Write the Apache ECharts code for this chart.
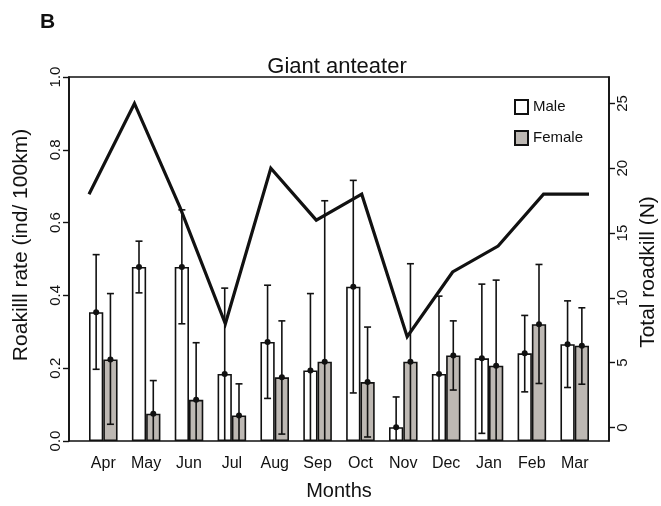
<!DOCTYPE html>
<html>
<head>
<meta charset="utf-8">
<script src="https://cdn.jsdelivr.net/npm/echarts@6/dist/echarts.min.js"></script>
<style>
  html, body { margin: 0; padding: 0; background: #fff; }
  #chart { width: 661px; height: 506px; }
</style>
</head>
<body>
<div id="chart"></div>
<script>
// Monthly giant anteater roadkill: rate by sex (bars, ±SE) and total count (line)
const months = ['Apr', 'May', 'Jun', 'Jul', 'Aug', 'Sep', 'Oct', 'Nov', 'Dec', 'Jan', 'Feb', 'Mar'];

const maleRate  = [0.354, 0.478, 0.478, 0.184, 0.272, 0.194, 0.424, 0.038, 0.184, 0.227, 0.241, 0.266];
const maleUpper = [0.512, 0.549, 0.635, 0.420, 0.428, 0.405, 0.716, 0.121, 0.398, 0.431, 0.345, 0.385];
const maleLower = [0.197, 0.407, 0.322, -0.052, 0.117, -0.017, 0.132, -0.045, -0.030, 0.021, 0.135, 0.147];

const femaleRate  = [0.224, 0.075, 0.113, 0.070, 0.175, 0.218, 0.162, 0.218, 0.235, 0.207, 0.321, 0.262];
const femaleUpper = [0.405, 0.166, 0.270, 0.157, 0.330, 0.660, 0.313, 0.487, 0.330, 0.442, 0.485, 0.366];
const femaleLower = [0.046, -0.016, -0.044, -0.017, 0.019, -0.224, 0.011, -0.051, 0.140, -0.028, 0.158, 0.156];

const totalRoadkill = [18, 25, 17, 8, 20, 16, 18, 7, 12, 14, 18, 18];

const rateTicks  = [0, 0.2, 0.4, 0.6, 0.8, 1.0];
const totalTicks = [0, 5, 10, 15, 20, 25];

const FONT = '"Liberation Sans", Arial, Helvetica, sans-serif';
const FEMALE_FILL = '#bdb8b3';

// Plot box (shared by both grids vertically)
const box = { left: 69, right: 609, top: 77, bottom: 441 };
// Bars use R barplot units: bars span 1..36, axis -0.4..37.4
const unitPx = (box.right - box.left) / 37.8;
const barGridLeft = box.left + 0.9 * unitPx;
const barGridRight = box.left + 36.9 * unitPx;

function errorBars(rate, upper, lower, side) {
  return {
    type: 'custom',
    xAxisIndex: 1,
    yAxisIndex: 2,
    z: 5,
    silent: true,
    data: rate.map((v, i) => [i, v, upper[i], lower[i]]),
    renderItem: function (params, api) {
      const idx = api.value(0);
      const band = api.size([1, 0])[0];
      const off = side * band / 6;
      const mid = api.coord([idx, api.value(1)]);
      const top = api.coord([idx, api.value(2)]);
      const lowVal = api.value(3);
      const bot = api.coord([idx, Math.max(lowVal, 0)]);
      const x = mid[0] + off;
      const cap = 3.5;
      const style = { stroke: '#111', lineWidth: 1.6, fill: null };
      const kids = [
        { type: 'line', shape: { x1: x, y1: top[1], x2: x, y2: bot[1] }, style: style },
        { type: 'line', shape: { x1: x - cap, y1: top[1], x2: x + cap, y2: top[1] }, style: style }
      ];
      if (lowVal >= 0) {
        kids.push({ type: 'line', shape: { x1: x - cap, y1: bot[1], x2: x + cap, y2: bot[1] }, style: style });
      }
      kids.push({ type: 'circle', shape: { cx: x, cy: mid[1], r: 3 }, style: { fill: '#111' } });
      return { type: 'group', children: kids };
    }
  };
}

const chart = echarts.init(document.getElementById('chart'), null, { renderer: 'canvas' });

chart.setOption({
  animation: false,
  backgroundColor: '#fff',
  textStyle: { fontFamily: FONT, color: '#111' },
  title: [
    { text: 'B', left: 35, top: 7, textStyle: { fontFamily: FONT, fontSize: 21, fontWeight: 'bold', color: '#111' } },
    { text: 'Giant anteater', left: 332, top: 51, textAlign: 'center',
      textStyle: { fontFamily: FONT, fontSize: 22, fontWeight: 'normal', color: '#111' } }
  ],
  legend: {
    data: ['Male', 'Female'],
    orient: 'vertical',
    left: 514,
    top: 99,
    padding: 0,
    itemWidth: 13,
    itemHeight: 14,
    itemGap: 15,
    icon: 'rect',
    textStyle: { fontFamily: FONT, fontSize: 15, color: '#111' }
  },
  grid: [
    { left: box.left, width: box.right - box.left, top: box.top, height: box.bottom - box.top,
      outerBoundsMode: 'none', containLabel: false,
      show: true, borderColor: '#111', borderWidth: 1.6, backgroundColor: 'transparent' },
    { left: barGridLeft, width: barGridRight - barGridLeft, top: box.top, height: box.bottom - box.top,
      outerBoundsMode: 'none', containLabel: false }
  ],
  xAxis: [
    { type: 'value', gridIndex: 0, min: 0.56, max: 12.44, show: false },
    { type: 'category', gridIndex: 1, data: months, boundaryGap: true,
      axisLine: { show: false }, axisTick: { show: false },
      axisLabel: { fontFamily: FONT, fontSize: 16, color: '#111', margin: 15, interval: 0 },
      name: 'Months', nameLocation: 'middle', nameGap: 40,
      nameTextStyle: { fontFamily: FONT, fontSize: 20, color: '#111' } }
  ],
  yAxis: [
    { type: 'value', gridIndex: 0, min: 0, max: 1, interval: 0.2, position: 'left',
      splitLine: { show: false },
      axisLine: { show: true, lineStyle: { color: '#111', width: 1.6 } },
      axisTick: { show: true, length: 6, lineStyle: { color: '#111', width: 1.4 } },
      axisLabel: { fontFamily: FONT, fontSize: 15, color: '#111', rotate: 90, margin: 6,
                   formatter: v => v.toFixed(1) },
      name: 'Roakilll rate (ind/ 100km)', nameLocation: 'middle', nameGap: 37,
      nameTextStyle: { fontFamily: FONT, fontSize: 21, color: '#111', padding: [0, 0, 0, 28] } },
    { type: 'value', gridIndex: 0, min: -1.04, max: 27.04, position: 'right',
      splitLine: { show: false },
      axisLine: { show: true, lineStyle: { color: '#111', width: 1.6 } },
      axisTick: { show: true, length: 6, customValues: totalTicks, lineStyle: { color: '#111', width: 1.4 } },
      axisLabel: { fontFamily: FONT, fontSize: 15, color: '#111', rotate: 90, margin: 6,
                   customValues: totalTicks },
      name: 'Total roadkill (N)', nameLocation: 'middle', nameGap: 25,
      nameTextStyle: { fontFamily: FONT, fontSize: 21, color: '#111', padding: [0, 26, 0, 0] } },
    { type: 'value', gridIndex: 1, min: 0, max: 1, show: false }
  ],
  series: [
    { name: 'Male', type: 'bar', xAxisIndex: 1, yAxisIndex: 2, data: maleRate,
      barWidth: unitPx, barGap: '0%',
      itemStyle: { color: '#ffffff', borderColor: '#111', borderWidth: 1.6 } },
    { name: 'Female', type: 'bar', xAxisIndex: 1, yAxisIndex: 2, data: femaleRate,
      barWidth: unitPx, barGap: '0%',
      itemStyle: { color: FEMALE_FILL, borderColor: '#111', borderWidth: 1.6 } },
    errorBars(maleRate, maleUpper, maleLower, -1),
    errorBars(femaleRate, femaleUpper, femaleLower, 1),
    { name: 'Total', type: 'line', xAxisIndex: 0, yAxisIndex: 1,
      data: totalRoadkill.map((v, i) => [i + 1, v]),
      symbol: 'none', z: 6,
      lineStyle: { color: '#111', width: 3.2, join: 'miter' } }
  ]
});
</script>
</body>
</html>
